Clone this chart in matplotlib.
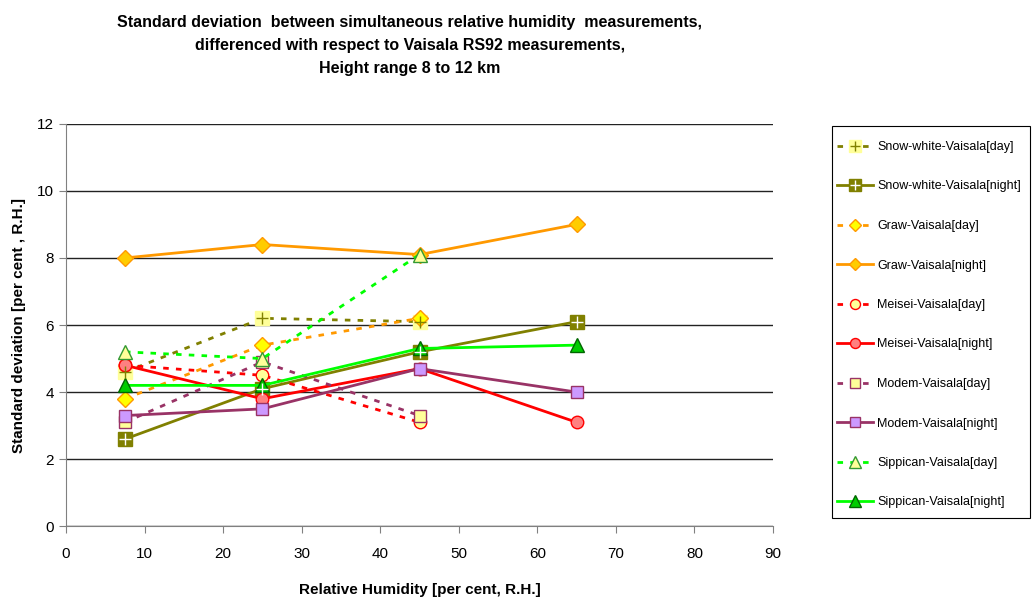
import matplotlib.pyplot as plt
from matplotlib.legend_handler import HandlerTuple
from matplotlib.patches import Rectangle

plt.rcParams['font.family'] = ['Liberation Sans', 'DejaVu Sans']

# data
rh4 = [7.5, 25, 45, 65]
rh3 = [7.5, 25, 45]

snow_day = [4.6, 6.2, 6.1]
snow_night = [2.6, 4.1, 5.2, 6.1]
graw_day = [3.8, 5.4, 6.2]
graw_night = [8.0, 8.4, 8.1, 9.0]
meisei_day = [4.8, 4.5, 3.1]
meisei_night = [4.8, 3.8, 4.7, 3.1]
modem_day = [3.1, 4.9, 3.3]
modem_night = [3.3, 3.5, 4.7, 4.0]
sipp_day = [5.2, 5.0, 8.1]
sipp_night = [4.2, 4.2, 5.3, 5.4]

labels = ['Snow-white-Vaisala[day]', 'Snow-white-Vaisala[night]',
          'Graw-Vaisala[day]', 'Graw-Vaisala[night]',
          'Meisei-Vaisala[day]', 'Meisei-Vaisala[night]',
          'Modem-Vaisala[day]', 'Modem-Vaisala[night]',
          'Sippican-Vaisala[day]', 'Sippican-Vaisala[night]']

fig = plt.figure(figsize=(10.32, 5.98), dpi=100)
ax = fig.add_axes([0.064, 0.12, 0.685, 0.673])

dots = (0, (2, 2.6))
lw = 2
ms = 9

handles = []

# snow-white: square with a plus on top
l1, = ax.plot(rh3, snow_day, color='#808000', lw=lw, ls=dots, marker='s', ms=ms + 1,
              mfc='#FFFF99', mec='#FFFF99', zorder=3)
p1, = ax.plot(rh3, snow_day, ls='none', marker='+', ms=ms, mec='#808000', mew=1, zorder=4)
handles.append((l1, p1))
l2, = ax.plot(rh4, snow_night, color='#808000', lw=lw, marker='s', ms=ms + 1,
              mfc='#808000', mec='#808000', zorder=3)
p2, = ax.plot(rh4, snow_night, ls='none', marker='+', ms=ms, mec='white', mew=1, zorder=4)
handles.append((l2, p2))

h, = ax.plot(rh3, graw_day, color='#FF9900', lw=lw, ls=dots, marker='D', ms=ms - 1,
             mfc='#FFFF00', mec='#FF9900', zorder=3)
handles.append(h)
h, = ax.plot(rh4, graw_night, color='#FF9900', lw=lw, marker='D', ms=ms - 1,
             mfc='#FFCC00', mec='#FF9900', zorder=3)
handles.append(h)

h, = ax.plot(rh3, meisei_day, color='#FF0000', lw=lw, ls=dots, marker='o', ms=ms,
             mfc='#FFFF99', mec='#FF0000', zorder=3)
handles.append(h)
h, = ax.plot(rh4, meisei_night, color='#FF0000', lw=lw, marker='o', ms=ms,
             mfc='#FF8080', mec='#FF0000', zorder=3)
handles.append(h)

h, = ax.plot(rh3, modem_day, color='#993366', lw=lw, ls=dots, marker='s', ms=ms,
             mfc='#FFFF99', mec='#993366', zorder=3)
handles.append(h)
h, = ax.plot(rh4, modem_night, color='#993366', lw=lw, marker='s', ms=ms,
             mfc='#CC99FF', mec='#993366', zorder=3)
handles.append(h)

h, = ax.plot(rh3, sipp_day, color='#00FF00', lw=lw, ls=dots, marker='^', ms=ms + 1,
             mfc='#FFFF99', mec='#339933', zorder=3)
handles.append(h)
h, = ax.plot(rh4, sipp_night, color='#00FF00', lw=lw, marker='^', ms=ms + 1,
             mfc='#00CC00', mec='#006600', zorder=3)
handles.append(h)

ax.set_xlim(0, 90)
ax.set_ylim(0, 12)
ax.set_xticks(range(0, 91, 10))
ax.set_yticks(range(0, 13, 2))
ax.yaxis.grid(True, color='#222222', lw=1)
ax.set_axisbelow(True)
for s in ['top', 'right']:
    ax.spines[s].set_visible(False)
ax.spines['left'].set_color('#808080')
ax.spines['bottom'].set_color('#808080')
ax.tick_params(direction='out', length=5, color='#808080', labelsize=11)
ax.tick_params(axis='x', pad=10)

ax.set_xlabel('Relative Humidity [per cent, R.H.]', fontsize=11, fontweight='bold', labelpad=16)
ax.set_ylabel('Standard deviation [per cent , R.H.]', fontsize=11, fontweight='bold', labelpad=8)

fig.text(0.397, 0.975,
         'Standard deviation  between simultaneous relative humidity  measurements,\n'
         'differenced with respect to Vaisala RS92 measurements,\n'
         'Height range 8 to 12 km',
         ha='center', va='top', fontsize=11.5, fontweight='bold', linespacing=1.65)

# legend box drawn separately so its padding can match
W, H = 1032, 598
fig.patches.append(Rectangle((832 / W, 1 - 518 / H), (1030 - 832) / W, (518 - 126) / H,
                             transform=fig.transFigure, fill=False, edgecolor='black', lw=0.8))

leg = fig.legend(handles, labels, loc='upper left', bbox_to_anchor=(837 / W, 1 - 141 / H),
                 handler_map={tuple: HandlerTuple(ndivide=1, pad=0)},
                 fontsize=9, labelspacing=2.2, handlelength=2.9, handletextpad=0.3,
                 markerscale=0.8, borderpad=0, borderaxespad=0, frameon=False)

fig.savefig('out.png', dpi=100)
